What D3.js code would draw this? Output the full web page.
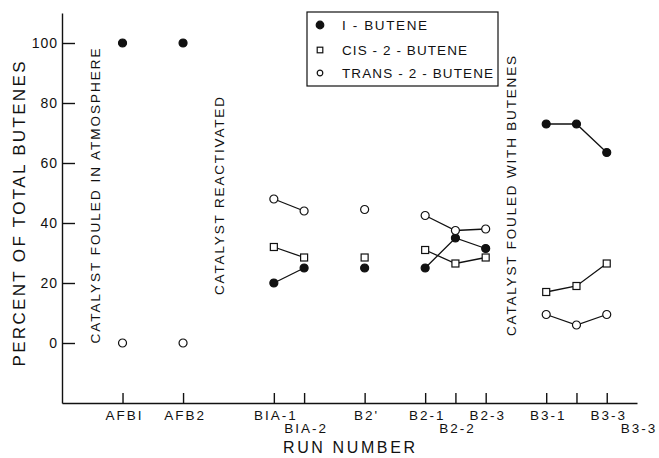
<!DOCTYPE html>
<html>
<head>
<meta charset="utf-8">
<script src="https://cdn.jsdelivr.net/npm/d3@7"></script>
<style>
  body { margin: 0; background: #fff; }
  text { font-family: "Liberation Sans", "DejaVu Sans", sans-serif; fill: #111; }
</style>
</head>
<body>
<div class="canva"></div>
<script>
// run numbers along the bottom, and where they sit (in run units)
const runs = ["AFB1", "AFB2", "BIA-1", "BIA-2", "B2'", "B2-1", "B2-2", "B2-3", "B3-1", "B3-2", "B3-3"];
const runPos = [0, 2, 5, 6, 8, 10, 11, 12, 14, 15, 16];
const runGroup = ["AFB1", "AFB2", "BIA", "BIA", "B2'", "B2", "B2", "B2", "B3", "B3", "B3"];

// tick labels as printed (two staggered rows)
const tickLabels = ["AFBI", "AFB2", "BIA-1", "BIA-2", "B2'", "B2-1", "B2-2", "B2-3", "B3-1", "B3-3", "B3-3"];
const tickLabelAt = [0, 2, 5, 6, 8, 10, 11, 12, 14, 16, 17];
const tickLabelRow = [0, 0, 0, 1, 0, 0, 1, 0, 0, 0, 1];

// percent of total butenes
const butene1 = [100, 100, 20, 25, 25, 25, 35, 31.5, 73, 73, 63.5];
const cis2 = [null, null, 32, 28.5, 28.5, 31, 26.5, 28.5, 17, 19, 26.5];
const trans2 = [0, 0, 48, 44, 44.5, 42.5, 37.5, 38, 9.5, 6, 9.5];

const yTicks = [0, 20, 40, 60, 80, 100];

const series = [
    {name: "I - BUTENE", values: butene1, shape: "dot"},
    {name: "CIS - 2 - BUTENE", values: cis2, shape: "square"},
    {name: "TRANS - 2 - BUTENE", values: trans2, shape: "ring"}
];

const svg = d3.select('.canva').append('svg')
    .attr('width', 659)
    .attr('height', 458);

const x = d3.scaleLinear().domain([-2, 17]).range([62, 637]);
const y = d3.scaleLinear().domain([-20, 110]).range([403, 13]);

/* axes */
svg.append('g')
    .attr('transform', 'translate(0,403)')
    .call(d3.axisBottom(x).tickValues(runPos).tickSizeInner(-10).tickSizeOuter(0).tickFormat(''))
    .call(g => g.selectAll('line, path').attr('stroke', '#111').attr('stroke-width', 1.4));

svg.append('g')
    .attr('transform', 'translate(62,0)')
    .call(d3.axisLeft(y).tickValues(yTicks).tickSizeInner(-13).tickSizeOuter(0).tickPadding(4))
    .call(g => g.selectAll('line, path').attr('stroke', '#111').attr('stroke-width', 1.4))
    .call(g => g.selectAll('text')
        .style('font-family', '"Liberation Sans", sans-serif')
        .style('font-size', '14px')
        .attr('letter-spacing', 1)
        .attr('fill', '#111'));

// run labels
svg.append('g').selectAll('text')
    .data(tickLabels)
    .enter().append('text')
    .attr('x', (d, i) => x(tickLabelAt[i]) + 2)
    .attr('y', (d, i) => tickLabelRow[i] ? 433 : 420)
    .attr('text-anchor', 'middle')
    .attr('font-size', 13.5)
    .attr('letter-spacing', 2)
    .text(d => d);

/* titles */
svg.append('text')
    .attr('x', 349).attr('y', 453)
    .attr('text-anchor', 'middle')
    .attr('font-size', 16)
    .attr('textLength', 132).attr('lengthAdjust', 'spacing')
    .text('RUN NUMBER');

svg.append('text')
    .attr('transform', 'translate(25,214) rotate(-90)')
    .attr('text-anchor', 'middle')
    .attr('font-size', 17)
    .attr('textLength', 305).attr('lengthAdjust', 'spacing')
    .text('PERCENT OF TOTAL BUTENES');

// notes written up the plot
const notes = [
    {text: 'CATALYST FOULED IN ATMOSPHERE', run: -0.9, len: 295},
    {text: 'CATALYST REACTIVATED', run: 3.2, len: 198},
    {text: 'CATALYST FOULED WITH BUTENES', run: 12.85, len: 280}
];
svg.append('g').selectAll('text')
    .data(notes)
    .enter().append('text')
    .attr('transform', d => 'translate(' + (x(d.run) + 5) + ',' + y(49) + ') rotate(-90)')
    .attr('text-anchor', 'middle')
    .attr('font-size', 13.5)
    .attr('textLength', d => d.len).attr('lengthAdjust', 'spacing')
    .text(d => d.text);

/* lines inside each run group */
const line = d3.line()
    .defined(d => d.v != null)
    .x(d => x(d.p))
    .y(d => y(d.v));

series.forEach(s => {
    const pts = s.values.map((v, i) => ({v: v, p: runPos[i], g: runGroup[i]}));
    const groups = d3.group(pts, d => d.g);
    groups.forEach(g => {
        if (g.length < 2) return;
        svg.append('path')
            .datum(g)
            .attr('d', line)
            .attr('fill', 'none')
            .attr('stroke', '#111')
            .attr('stroke-width', 1.3);
    });
});

function drawMarker(sel, shape, r) {
    if (shape === 'square') {
        sel.append('rect')
            .attr('x', -r).attr('y', -r)
            .attr('width', 2 * r).attr('height', 2 * r)
            .attr('fill', '#fff').attr('stroke', '#111').attr('stroke-width', 1.2);
    } else {
        sel.append('circle')
            .attr('r', r)
            .attr('fill', shape === 'dot' ? '#111' : '#fff')
            .attr('stroke', '#111').attr('stroke-width', 1.2);
    }
}

series.forEach(s => {
    const pts = s.values.map((v, i) => ({v: v, p: runPos[i]})).filter(d => d.v != null);
    svg.append('g').selectAll('g')
        .data(pts)
        .enter().append('g')
        .attr('transform', d => 'translate(' + x(d.p) + ',' + y(d.v) + ')')
        .each(function() {
            drawMarker(d3.select(this), s.shape, s.shape === 'square' ? 3.5 : 4);
        });
});

/* legend */
const legend = svg.append('g').attr('transform', 'translate(307,12)');
legend.append('rect')
    .attr('width', 191).attr('height', 74)
    .attr('fill', '#fff').attr('stroke', '#111').attr('stroke-width', 1.2);

const legendRows = [13, 38, 61];
const legendLen = [85, 125, 151];
series.forEach((s, i) => {
    const row = legend.append('g').attr('transform', 'translate(13,' + legendRows[i] + ')');
    drawMarker(row, s.shape, s.shape === 'dot' ? 3.8 : 2.8);
    row.append('text')
        .attr('x', 22).attr('y', 5)
        .attr('font-size', 13.5)
        .attr('textLength', legendLen[i]).attr('lengthAdjust', 'spacing')
        .text(s.name);
});
</script>
</body>
</html>
